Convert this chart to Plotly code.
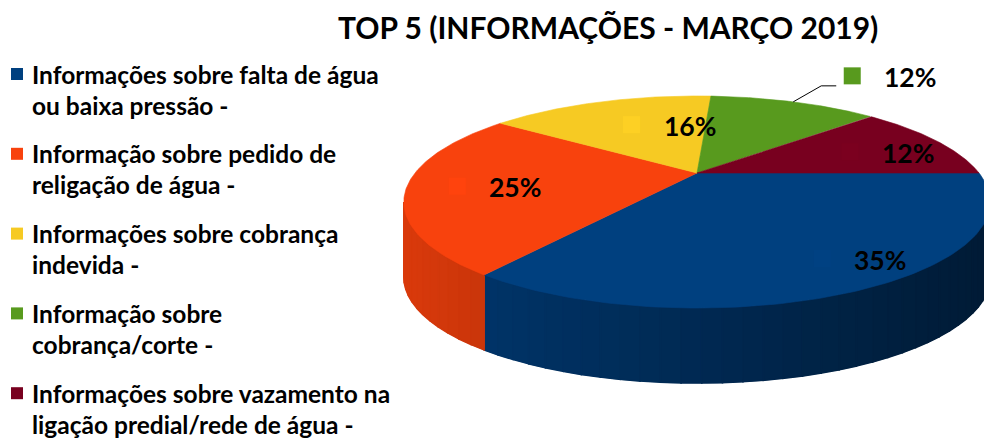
import numpy as np
import plotly.graph_objects as go

# ---------------- data ----------------
title = "TOP 5 (INFORMAÇÕES - MARÇO 2019)"
categories = [
    "Informações sobre falta de água ou baixa pressão -",
    "Informação sobre pedido de religação de água -",
    "Informações sobre cobrança indevida -",
    "Informação sobre cobrança/corte -",
    "Informações sobre vazamento na ligação predial/rede de água -",
]
legend_lines = [
    ["Informações sobre falta de água", "ou baixa pressão -"],
    ["Informação sobre pedido de", "religação de água -"],
    ["Informações sobre cobrança", "indevida -"],
    ["Informação sobre", "cobrança/corte -"],
    ["Informações sobre vazamento na", "ligação predial/rede de água -"],
]
values = [35, 25, 16, 12, 12]
value_labels = ["35%", "25%", "16%", "12%", "12%"]
colors = ["#00407F", "#F8420D", "#F6CA23", "#589A1E", "#78001F"]

# ---------------- layout / style parameters ----------------
W, H = 984, 441
CX, CY = 697, 173          # projected pie centre (pixels)
A, B = 282, 98.1           # projected radii
K = 0.2736                 # perspective factor
DEPTH = 75                 # pie thickness (pixels)
label_r = [0.79, 0.83, 0.63, 1.0, 0.62]   # radial position of labels
outside = [False, False, False, True, False]
FONT = "Lato"


def proj(r, deg):
    t = np.radians(deg)
    u, v = r * np.cos(t), r * np.sin(t)
    s = 1.0 / (1.0 + K * v)
    return CX + A * u * s, CY - B * v * s


def shade(hexcol, f):
    h = hexcol.lstrip("#")
    r, g, b = (int(h[i:i + 2], 16) for i in (0, 2, 4))
    return "rgb(%d,%d,%d)" % (min(255, r * f), min(255, g * f), min(255, b * f))


def side_factor(x):
    return float(np.clip(0.88 - 0.45 * (x - 403) / 580, 0.35, 1))


total = float(sum(values))
cum = np.cumsum([0] + values)
starts = -360.0 * cum[:-1] / total
ends = -360.0 * cum[1:] / total
mids = (starts + ends) / 2

fig = go.Figure()

# ---- sides (front, visible part) ----
vis_lo = -180 + np.degrees(np.arcsin(K))
vis_hi = -np.degrees(np.arcsin(K))
for i in range(len(values)):
    lo = max(ends[i], vis_lo)
    hi = min(starts[i], vis_hi)
    if lo >= hi:
        continue
    ts = np.linspace(lo, hi, 80)
    xs, ys = proj(1.0, ts)
    base = shade(colors[i], side_factor(xs.mean()))
    fig.add_trace(go.Scatter(x=list(xs) + list(xs[::-1]) + [xs[0]],
                             y=list(ys) + list(ys[::-1] + DEPTH) + [ys[0]],
                             mode="lines", fill="toself", fillcolor=base,
                             line=dict(color=base, width=0.5),
                             hoverinfo="skip", showlegend=False))
    n = max(2, int((hi - lo) / 3))
    edges = np.linspace(lo, hi, n + 1)
    for j in range(n):
        ts = np.linspace(edges[j], edges[j + 1], 5)
        xs, ys = proj(1.0, ts)
        px = list(xs) + list(xs[::-1]) + [xs[0]]
        py = list(ys) + list(ys[::-1] + DEPTH) + [ys[0]]
        c = shade(colors[i], side_factor(xs.mean()))
        fig.add_trace(go.Scatter(x=px, y=py, mode="lines", fill="toself",
                                 fillcolor=c, line=dict(color=c, width=1.6),
                                 hoverinfo="skip", showlegend=False))

# ---- top faces ----
for i in range(len(values)):
    ts = np.linspace(starts[i], ends[i], 120)
    xs, ys = proj(1.0, ts)
    px = [CX] + list(xs) + [CX]
    py = [CY] + list(ys) + [CY]
    fig.add_trace(go.Scatter(x=px, y=py, mode="lines", fill="toself",
                             fillcolor=colors[i],
                             line=dict(color=colors[i], width=0.6),
                             name=categories[i], hoverinfo="name",
                             showlegend=False))

# ---- data labels ----
annotations = []
for i in range(len(values)):
    x0, y0 = proj(label_r[i], mids[i])
    if outside[i]:
        lx = [x0, x0 + 28, x0 + 43]
        ly = [y0, y0 - 16, y0 - 16]
        fig.add_trace(go.Scatter(x=lx, y=ly, mode="lines",
                                 line=dict(color="black", width=1),
                                 hoverinfo="skip", showlegend=False))
        kx, ky = x0 + 59, y0 - 26
        keycol = colors[i]
    else:
        kx, ky = x0, y0
        keycol = shade(colors[i], 1.03)
    fig.add_trace(go.Scatter(x=[kx], y=[ky], mode="markers",
                             marker=dict(symbol="square", size=17, color=keycol,
                                         line=dict(width=0)),
                             hoverinfo="skip", showlegend=False))
    annotations.append(dict(x=kx + 30, y=ky + 1, xref="x", yref="y",
                            text=value_labels[i], showarrow=False,
                            xanchor="left", yanchor="middle",
                            font=dict(family=FONT, size=26.5, color="black",
                                      weight="bold")))

# ---- legend (left) ----
LEG_X, LEG_Y0, LEG_STEP, LINE_STEP = 17, 74, 79.8, 31
for i in range(len(values)):
    yy = LEG_Y0 + i * LEG_STEP
    fig.add_trace(go.Scatter(x=[LEG_X], y=[yy], mode="markers",
                             marker=dict(symbol="square", size=12,
                                         color=colors[i], line=dict(width=0)),
                             hoverinfo="skip", showlegend=False))
    for j, line in enumerate(legend_lines[i]):
        annotations.append(dict(x=30, y=yy + j * LINE_STEP, xref="x", yref="y",
                                text=line, showarrow=False,
                                xanchor="left", yanchor="middle",
                                font=dict(family=FONT, size=24.5, color="black",
                                          weight="bold")))

# ---- title ----
annotations.append(dict(x=608, y=27, xref="x", yref="y", text=title,
                        showarrow=False, xanchor="center", yanchor="middle",
                        font=dict(family=FONT, size=30, color="black",
                                  weight="bold")))

fig.update_layout(
    width=W, height=H,
    margin=dict(l=0, r=0, t=0, b=0, pad=0),
    paper_bgcolor="white", plot_bgcolor="white",
    xaxis=dict(range=[0, W], visible=False, fixedrange=True),
    yaxis=dict(range=[H, 0], visible=False, fixedrange=True),
    annotations=annotations,
    showlegend=False,
)

fig.write_html("out.html", config={"displayModeBar": False},
               post_script="document.body.style.margin='0px';"
                           "document.body.style.overflow='hidden';")
